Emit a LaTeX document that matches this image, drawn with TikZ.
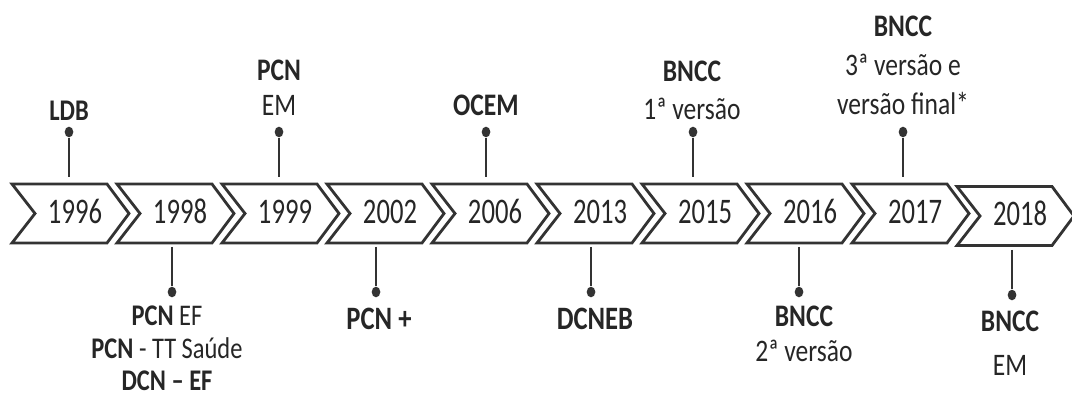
\documentclass[tikz,border=0pt]{standalone}
\usepackage{fontspec}
\setmainfont{Carlito}[FakeStretch=0.815]
\newfontfamily\yearfont{Carlito}[FakeStretch=0.74]
\usepackage{tikz}
\usetikzlibrary{shapes.geometric}
\definecolor{linegray}{rgb}{0.2,0.2,0.2}
\definecolor{textgray}{rgb}{0.15,0.15,0.15}

\begin{document}
\begin{tikzpicture}[x=0.75pt,y=0.75pt,yscale=-1,xscale=1,
    chev/.style={draw=linegray,line width=2.1pt,line join=miter,fill=white},
    year/.style={font=\yearfont\fontsize{27}{30}\selectfont,text=textgray,inner sep=0pt,anchor=base},
    lbl/.style={align=center,text=textgray,inner sep=0pt,anchor=base},
    stem/.style={draw=linegray,line width=2pt},
    dot/.style={ellipse,fill=linegray,inner sep=0pt,minimum width=6.5pt,minimum height=8pt}]
    \useasboundingbox[fill=white] (0,0) rectangle (1072,398);

    % chevrons and years
    \foreach \yr/\dy [count=\i from 0] in {1996/0,1998/0,1999/0,2002/0,2006/0,2013/0,2015/0,2016/0,2017/0,2018/2.5} {
        \pgfmathsetmacro\L{12+105*\i}
        \draw[chev] (\L,184+\dy) -- ++(95,0) -- ++(22,29.5) -- ++(-22,29.5) -- ++(-95,0) -- ++(23,-29.5) -- cycle;
        \node[year] (y\yr) at (\L+63,223.5+\dy) {\yr};
    }

    % stems above
    \foreach \yr/\x in {1996/69,1999/279,2006/486,2015/693,2017/903} {
        \coordinate (s\yr) at (\x,177);
        \node[dot] (d\yr) at (\x,132) {};
        \draw[stem] (d\yr) -- (s\yr);
    }
    % stems below
    \foreach \yr/\x/\dy in {1998/172/0,2002/376/0,2013/591/0,2016/799/0,2018/1012/3} {
        \coordinate (s\yr) at (\x,247+\dy);
        \node[dot] (d\yr) at (\x,292+\dy) {};
        \draw[stem] (s\yr) -- (d\yr);
    }

    % labels (anchored on the last line)
    \node[lbl,font=\fontsize{22.5}{26}\selectfont] (l1996) at (69,121) {\textbf{LDB}};
    \node[lbl,font=\fontsize{23.5}{26.25}\selectfont] (l1999) at (279,116) {\textbf{PCN}\\EM};
    \node[lbl,font=\fontsize{23.5}{26}\selectfont] (l2006) at (486,116) {\textbf{OCEM}};
    \node[lbl,font=\fontsize{23.5}{29}\selectfont] (l2015) at (692,120) {\textbf{BNCC}\\1ª versão};
    \node[lbl,font=\fontsize{23.5}{29.5}\selectfont] (l2017) at (903,115) {\textbf{BNCC}\\3ª versão e\\versão final*};
    \node[lbl,font=\fontsize{22.5}{24.5}\selectfont] (l1998) at (167,391) {\textbf{PCN} EF\\\textbf{PCN} - TT Saúde\\\textbf{DCN – EF}};
    \node[lbl,font=\fontsize{24.5}{26}\selectfont] (l2002) at (379,330) {\textbf{PCN +}};
    \node[lbl,font=\fontsize{24.5}{26}\selectfont] (l2013) at (595,330) {\textbf{DCNEB}};
    \node[lbl,font=\fontsize{23.5}{26.25}\selectfont] (l2016) at (804,362) {\textbf{BNCC}\\2ª versão};
    \node[lbl,font=\fontsize{23.5}{33}\selectfont] (l2018) at (1010,376) {\textbf{BNCC}\\EM};
\end{tikzpicture}
\end{document}
